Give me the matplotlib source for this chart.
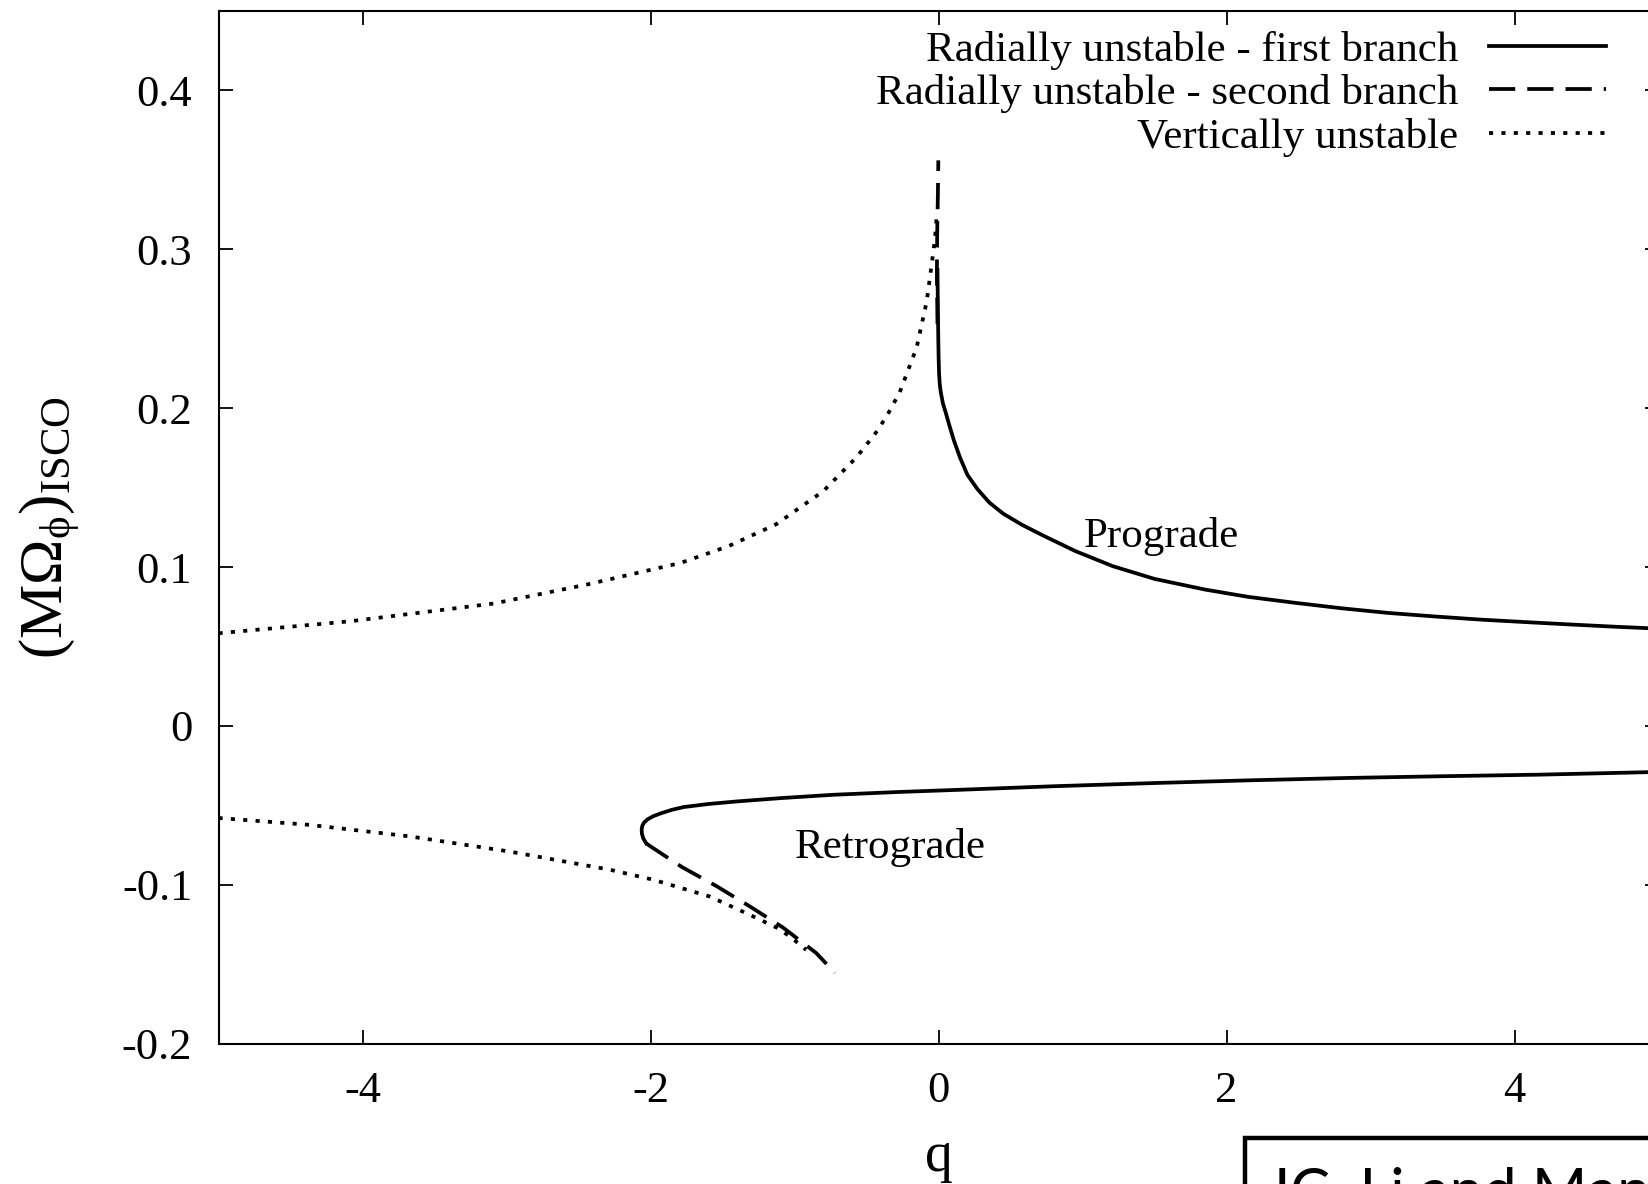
import matplotlib
matplotlib.use('Agg')
import matplotlib.pyplot as plt
from matplotlib.patches import Rectangle

plt.rcParams['font.family'] = ['Liberation Serif', 'DejaVu Serif']
plt.rcParams['mathtext.fontset'] = 'custom'
plt.rcParams['mathtext.rm'] = 'Liberation Serif'
plt.rcParams['mathtext.it'] = 'Liberation Serif'
plt.rcParams['mathtext.bf'] = 'Liberation Serif:bold'
plt.rcParams['axes.unicode_minus'] = False

# radially unstable - first branch, prograde (upper) part
pro_q = [-0.008, -0.006, -0.004, -0.002, 0.000, 0.003, 0.008, 0.015, 0.030, 0.050,
         0.075, 0.105, 0.148, 0.200, 0.270, 0.353, 0.450, 0.580, 0.735, 0.950,
         1.210, 1.500, 1.850, 2.150, 2.480, 2.800, 3.120, 3.440, 3.760, 4.080,
         4.390, 4.700, 5.000]
pro_v = [0.287, 0.270, 0.255, 0.242, 0.232, 0.222, 0.215, 0.210, 0.203, 0.197,
         0.189, 0.180, 0.169, 0.158, 0.149, 0.1405, 0.1335, 0.1265, 0.1194, 0.1100,
         0.1005, 0.0925, 0.0858, 0.0812, 0.0774, 0.0740, 0.0711, 0.0689, 0.0669, 0.0653,
         0.0638, 0.0624, 0.0612]

# radially unstable - first branch, retrograde (lower) part
retro_q = [-2.030, -2.050, -2.060, -2.062, -2.058, -2.045, -2.020, -1.980, -1.920,
           -1.850, -1.770, -1.600, -1.405, -1.100, -0.735, -0.300, 0.157, 0.800,
           1.495, 2.150, 2.835, 3.500, 4.180, 5.000]
retro_v = [-0.0740, -0.0710, -0.0680, -0.0655, -0.0630, -0.0608, -0.0588, -0.0568,
           -0.0548, -0.0528, -0.0511, -0.0492, -0.0476, -0.0455, -0.0434, -0.0417,
           -0.0402, -0.0380, -0.0360, -0.0343, -0.0328, -0.0317, -0.0307, -0.0290]

# radially unstable - second branch
sec_hi_q = [-0.008, -0.012, -0.010, -0.005, -0.002]
sec_hi_v = [0.253, 0.285, 0.310, 0.335, 0.356]
sec_lo_q = [-2.030, -2.000, -1.780, -1.540, -1.310, -1.080, -0.850, -0.720]
sec_lo_v = [-0.0740, -0.0759, -0.0890, -0.1010, -0.1137, -0.1270, -0.1430, -0.1555]

# vertically unstable
vert_hi_q = [-5.00, -4.08, -3.09, -2.44, -1.79, -1.46, -1.13, -0.80, -0.571, -0.44,
             -0.36, -0.27, -0.153, -0.083, -0.049, -0.026, -0.014]
vert_hi_v = [0.0583, 0.0659, 0.0770, 0.0890, 0.1026, 0.1131, 0.1268, 0.1478, 0.1690, 0.1840,
             0.1950, 0.2100, 0.2380, 0.2670, 0.2900, 0.3060, 0.3200]
vert_lo_q = [-5.00, -4.37, -3.67, -2.98, -2.28, -1.98, -1.59, -1.31, -1.125, -1.03, -0.92]
vert_lo_v = [-0.0580, -0.0623, -0.0696, -0.0791, -0.0906, -0.0969, -0.1074, -0.1190,
             -0.1270, -0.1327, -0.1410]

xticks = [-4, -2, 0, 2, 4]
xtick_labels = ['-4', '-2', '0', '2', '4']
yticks = [-0.2, -0.1, 0.0, 0.1, 0.2, 0.3, 0.4]
ytick_labels = ['-0.2', '-0.1', '0', '0.1', '0.2', '0.3', '0.4']

labels = ['Radially unstable - first branch',
          'Radially unstable - second branch',
          'Vertically unstable']

fig = plt.figure(figsize=(16.48, 11.84), dpi=100)
# axes run a little past the right edge, like the cropped original
ax = fig.add_axes([0.1326, 0.1186, 0.8739, 0.8721])

lw = 2.7
dash = (0, (7, 3.2))
dot = (0, (1.1, 2.2))

l1, = ax.plot(pro_q, pro_v, color='black', lw=lw, label=labels[0])
ax.plot(retro_q, retro_v, color='black', lw=lw)
l2, = ax.plot(sec_lo_q, sec_lo_v, color='black', lw=lw, linestyle=dash, label=labels[1])
ax.plot(sec_hi_q, sec_hi_v, color='black', lw=lw, linestyle=dash)
l3, = ax.plot(vert_hi_q, vert_hi_v, color='black', lw=lw, linestyle=dot, label=labels[2])
ax.plot(vert_lo_q, vert_lo_v, color='black', lw=lw, linestyle=dot)

ax.set_xlim(-5, 5)
ax.set_ylim(-0.2, 0.45)
ax.set_xticks(xticks)
ax.set_xticklabels(xtick_labels)
ax.set_yticks(yticks)
ax.set_yticklabels(ytick_labels)
ax.tick_params(axis='both', direction='in', length=10, width=1.3,
               top=True, right=True, labelsize=32)
ax.tick_params(axis='x', pad=20)
ax.tick_params(axis='y', pad=19)
for s in ax.spines.values():
    s.set_linewidth(1.5)

fig.text(939 / 1648, 13 / 1184, 'q', ha='center', va='baseline', fontsize=40)
ax.set_ylabel(r'$(\mathrm{M}\Omega_{\phi})_{\mathrm{ISCO}}$', fontsize=44)
ax.yaxis.set_label_coords(-0.0948, 0.5)

ax.text(1.545, 0.1123, 'Prograde', ha='center', va='baseline', fontsize=31)
ax.text(-0.335, -0.083, 'Retrograde', ha='center', va='baseline', fontsize=31)

ax.legend(handles=[l1, l2, l3], loc='upper right', bbox_to_anchor=(0.9632, 0.981),
          markerfirst=False, frameon=False, fontsize=31, handlelength=2.72,
          handletextpad=0.71, labelspacing=0.1, borderpad=0, borderaxespad=0)

# credit box cut off at the bottom right
fig.add_artist(Rectangle((1245 / 1648, -0.1), 1.0, (1184 - 1138) / 1184 + 0.1,
                         transform=fig.transFigure, fill=False, lw=3.2, ec='black'))
fig.text(1265 / 1648, -27 / 1184, 'JC. Li and Mano', family='Lato',
         fontsize=43, va='baseline', ha='left')

fig.savefig('out.png', dpi=100)
